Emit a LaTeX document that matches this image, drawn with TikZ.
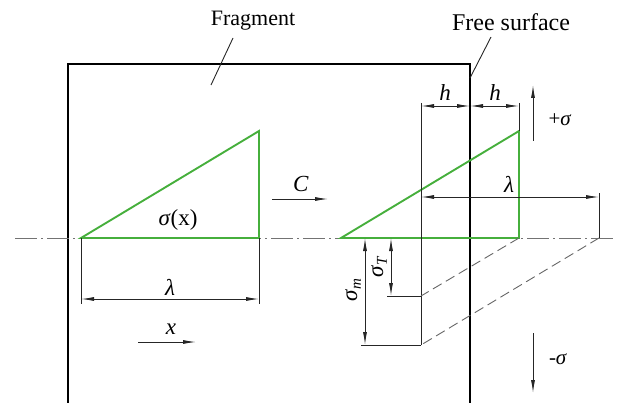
\documentclass[tikz,border=0pt]{standalone}
\usepackage{fontspec}
\setmainfont{Liberation Serif}
\newfontfamily\tnr{Liberation Serif}
\usetikzlibrary{arrows.meta}
\definecolor{grn}{RGB}{70,175,60}
\begin{document}
\begin{tikzpicture}[x=1pt,y=-1pt,
 frame/.style={line width=2.8pt,black},
 thinl/.style={line width=0.9pt,black!85},
 dim/.style={thinl,{Latex[length=13pt,width=4pt]}-{Latex[length=13pt,width=4pt]}},
 arr/.style={thinl,-{Latex[length=13pt,width=4pt]}},
 grnl/.style={line width=1.9pt,grn},
 hid/.style={line width=0.9pt,black!60,dash pattern=on 10pt off 5pt},
 axis/.style={line width=0.9pt,black!55,dash pattern=on 22pt off 4pt on 2pt off 4pt},
 lbl/.style={font=\tnr\fontsize{23}{27}\selectfont, inner sep=1pt},
 slbl/.style={font=\tnr\fontsize{21}{25}\selectfont, inner sep=1pt}
]
\useasboundingbox (0,0) rectangle (617,403);

% frame of the fragment
\draw[frame] (68,403) -- (68,64) -- (470,64) -- (470,403);

% center line
\coordinate (axL) at (15,238);
\coordinate (axR) at (617,238);
\draw[axis] (axL) -- (axR);

% left triangle
\coordinate (A1) at (81,238);
\coordinate (B1) at (259,238);
\coordinate (T1) at (259,131);
\draw[grnl] (A1) -- (T1) -- (B1) -- cycle;
\node[lbl] (sx) at (178,220) {\textit{σ}(x)};

% left lambda dimension
\coordinate (A1d) at (81,304);
\coordinate (B1d) at (259,304);
\coordinate (L1a) at (81,299);
\coordinate (L1b) at (259,299);
\draw[thinl] (A1) -- (A1d);
\draw[thinl] (B1) -- (B1d);
\draw[dim] (L1a) -- (L1b);
\node[lbl] (lam1) at (170,287) {\textit{λ}};

% x arrow
\coordinate (xa) at (138,342);
\coordinate (xb) at (196,342);
\draw[arr] (xa) -- (xb);
\node[lbl] (xl) at (171,329) {\textit{x}};

% C arrow
\coordinate (ca) at (272,199);
\coordinate (cb) at (328,199);
\draw[arr] (ca) -- (cb);
\node[lbl] (cl) at (301,184) {\textit{C}};

% labels with leaders
\node[font=\tnr\fontsize{22}{26}\selectfont] (frag) at (253,21) {Fragment};
\coordinate (fragP) at (211,85);
\coordinate (fragQ) at (233,38);
\draw[thinl] (fragP) -- (fragQ);
\node[font=\tnr\fontsize{24}{28}\selectfont] (free) at (511,22) {Free surface};
\coordinate (freeP) at (470,78);
\coordinate (freeQ) at (491,37);
\draw[thinl] (freeP) -- (freeQ);

% right triangle
\coordinate (A2) at (341,238);
\coordinate (B2) at (519,238);
\coordinate (T2) at (519,131);
\draw[grnl] (A2) -- (T2) -- (B2) -- cycle;

% extension lines
\coordinate (v1t) at (421,103);
\coordinate (v1b) at (421,345);
\coordinate (v3t) at (519,103);
\draw[thinl] (v1t) -- (v1b);
\draw[thinl] (v3t) -- (T2);

% h dimensions
\coordinate (h1) at (421,106);
\coordinate (h2) at (470,106);
\coordinate (h3) at (519,106);
\draw[dim] (h1) -- (h2);
\draw[dim] (h2) -- (h3);
\node[lbl] (hl1) at (445,93) {\textit{h}};
\node[lbl] (hl2) at (495,93) {\textit{h}};

% right lambda dimension
\coordinate (l2a) at (421,197);
\coordinate (l2b) at (599,197);
\coordinate (l2t) at (599,193);
\coordinate (l2f) at (599,238);
\draw[dim] (l2a) -- (l2b);
\draw[thinl] (l2t) -- (l2f);
\node[lbl] (lam2) at (509,184) {\textit{λ}};

% hidden (dashed) lines
\coordinate (dT) at (421,296);
\coordinate (dM) at (421,345);
\draw[hid] (B2) -- (dT);
\draw[hid] (l2f) -- (dM);

% sigma_T dimension
\coordinate (sTe) at (387,296);
\coordinate (sTa) at (391,238);
\coordinate (sTb) at (391,296);
\draw[thinl] (dT) -- (sTe);
\draw[dim] (sTa) -- (sTb);
\node[lbl,rotate=90] (sTl) at (379,267) {\textit{σ}\raisebox{-0.35ex}{\fontsize{15}{17}\selectfont\textit{T}}};

% sigma_m dimension
\coordinate (sMe) at (361,345);
\coordinate (sMa) at (365,238);
\coordinate (sMb) at (365,345);
\draw[thinl] (dM) -- (sMe);
\draw[dim] (sMa) -- (sMb);
\node[lbl,rotate=90] (sMl) at (353,290) {\textit{σ}\raisebox{-0.35ex}{\fontsize{15}{17}\selectfont\textit{m}}};

% sign arrows
\coordinate (pa) at (533,141);
\coordinate (pb) at (533,85);
\draw[arr] (pa) -- (pb);
\node[slbl] (pl) at (560,120) {+\textit{σ}};
\coordinate (ma) at (533,333);
\coordinate (mb) at (533,393);
\draw[arr] (ma) -- (mb);
\node[slbl] (ml) at (558,359) {-\textit{σ}};
\end{tikzpicture}
\end{document}
